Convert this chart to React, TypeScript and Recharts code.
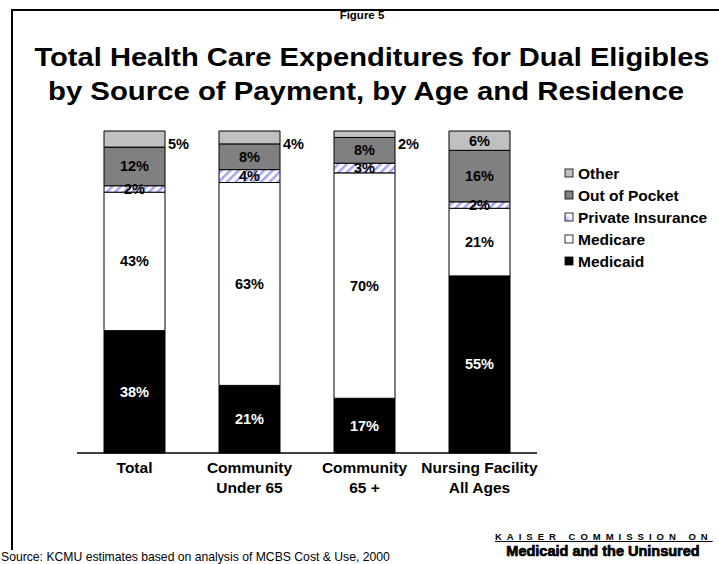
import React from 'react';
import { BarChart, Bar, XAxis, YAxis, LabelList } from 'recharts';

// categories and stacked shares (percent of total spending)
const categories = ['Total', 'Community\nUnder 65', 'Community\n65 +', 'Nursing Facility\nAll Ages'];
const medicaid = [38, 21, 17, 55];
const medicare = [43, 63, 70, 21];
const privateInsurance = [2, 4, 3, 2];
const outOfPocket = [12, 8, 8, 16];
const other = [5, 4, 2, 6];

const FONT = '"Liberation Sans", Arial, sans-serif';

// bottom-to-top stacking order
const series = [
  { key: 'medicaid', name: 'Medicaid', fill: '#000000', values: medicaid, labelColor: '#ffffff' },
  { key: 'medicare', name: 'Medicare', fill: '#ffffff', values: medicare, labelColor: '#000000' },
  { key: 'privateInsurance', name: 'Private Insurance', fill: 'url(#hatch)', values: privateInsurance, labelColor: '#000000' },
  { key: 'outOfPocket', name: 'Out of Pocket', fill: '#808080', values: outOfPocket, labelColor: '#000000' },
  { key: 'other', name: 'Other', fill: '#c0c0c0', values: other, labelColor: '#000000' },
];

const chartData = categories.map((name, i) => {
  const row: Record<string, string | number> = { name };
  series.forEach((s) => {
    row[s.key] = s.values[i];
  });
  return row;
});

const makeLabel = (key: string, color: string) => (props: any) => {
  const { x, y, width, height, value } = props;
  if (value == null) return null;
  // thin "Other" slices get their label beside the bar
  const outside = key === 'other' && value < 6;
  return (
    <text
      x={outside ? x + width + 3 : x + width / 2}
      y={outside ? y + 13 : y + height / 2}
      textAnchor={outside ? 'start' : 'middle'}
      dominantBaseline="central"
      fontFamily={FONT}
      fontWeight="bold"
      fontSize={14.5}
      fill={color}
    >
      {`${value}%`}
    </text>
  );
};

const CategoryTick = (props: any) => {
  const { x, y, payload } = props;
  const lines = String(payload.value).split('\n');
  return (
    <g>
      {lines.map((line, i) => (
        <text
          key={i}
          x={x}
          y={y + 12 + i * 20}
          textAnchor="middle"
          fontFamily={FONT}
          fontWeight="bold"
          fontSize={15.5}
          fill="#000"
        >
          {line}
        </text>
      ))}
    </g>
  );
};

const LegendBox = () => (
  <svg width={150} height={110}>
    <defs>
      <linearGradient id="legendHatch" x1="0" y1="1" x2="1" y2="0">
        <stop offset="0%" stopColor="#9999ff" />
        <stop offset="60%" stopColor="#ffffff" />
      </linearGradient>
    </defs>
    {[...series].reverse().map((s, i) => (
      <g key={s.key} transform={`translate(0, ${i * 22})`}>
        <rect
          x={1}
          y={3}
          width={8}
          height={8}
          fill={s.key === 'privateInsurance' ? 'url(#legendHatch)' : s.fill}
          stroke="#000"
          strokeWidth={0.8}
        />
        <text x={14} y={12.5} fontFamily={FONT} fontWeight="bold" fontSize={15.5} fill="#000">
          {s.name}
        </text>
      </g>
    ))}
  </svg>
);

const App: React.FC = () => {
  return (
    <div style={{ position: 'absolute', left: 0, top: 0, width: 719, height: 564, background: '#fff', overflow: 'hidden' }}>
      <div style={{ position: 'absolute', left: 0, top: 0 }}>
        <BarChart
          width={719}
          height={564}
          data={chartData}
          margin={{ top: 131, right: 182, left: 77, bottom: 61 }}
          barSize={61}
        >
          <defs>
            <pattern id="hatch" width="6" height="6" patternUnits="userSpaceOnUse" patternTransform="rotate(45)">
              <rect width="6" height="6" fill="#ffffff" />
              <rect width="2.5" height="6" fill="#a3a3f5" />
            </pattern>
          </defs>
          <XAxis
            dataKey="name"
            height={50}
            tickLine={false}
            axisLine={{ stroke: '#000', strokeWidth: 1.5 }}
            tick={<CategoryTick />}
            interval={0}
          />
          <YAxis hide domain={[0, 100]} />
          {series.map((s) => (
            <Bar
              key={s.key}
              dataKey={s.key}
              name={s.name}
              stackId="a"
              fill={s.fill}
              stroke="#000"
              strokeWidth={1}
              isAnimationActive={false}
            >
              <LabelList dataKey={s.key} content={makeLabel(s.key, s.labelColor)} />
            </Bar>
          ))}
        </BarChart>
      </div>
      <div style={{ position: 'absolute', left: 564, top: 166 }}>
        <LegendBox />
      </div>
      <svg width={719} height={564} style={{ position: 'absolute', left: 0, top: 0, pointerEvents: 'none' }}>
        {/* slide frame */}
        <path d="M12 550 L12 10 L730 10" fill="none" stroke="#000" strokeWidth={2} />
        <text x={362} y={19} textAnchor="middle" fontFamily={FONT} fontWeight="bold" fontSize={11.5} fill="#000">
          Figure 5
        </text>
        <text
          x={372}
          y={66}
          textAnchor="middle"
          fontFamily={FONT}
          fontWeight="bold"
          fontSize={26.5}
          textLength={675}
          lengthAdjust="spacingAndGlyphs"
          fill="#000"
        >
          Total Health Care Expenditures for Dual Eligibles
        </text>
        <text
          x={366}
          y={100}
          textAnchor="middle"
          fontFamily={FONT}
          fontWeight="bold"
          fontSize={26.5}
          textLength={636}
          lengthAdjust="spacingAndGlyphs"
          fill="#000"
        >
          by Source of Payment, by Age and Residence
        </text>
        <text x={1} y={561} fontFamily={FONT} fontSize={12.2} fill="#000">
          Source: KCMU estimates based on analysis of MCBS Cost &amp; Use, 2000
        </text>
        <text
          x={495}
          y={540}
          fontFamily={FONT}
          fontWeight="bold"
          fontSize={9.5}
          letterSpacing={5}
          textDecoration="underline"
          fill="#000"
        >
          KAISER COMMISSION ON
        </text>
        <text
          x={603}
          y={556}
          textAnchor="middle"
          fontFamily={FONT}
          fontWeight="bold"
          fontSize={14.5}
          stroke="#000"
          strokeWidth={0.7}
          fill="#000"
        >
          Medicaid and the Uninsured
        </text>
      </svg>
    </div>
  );
};

export default App;
